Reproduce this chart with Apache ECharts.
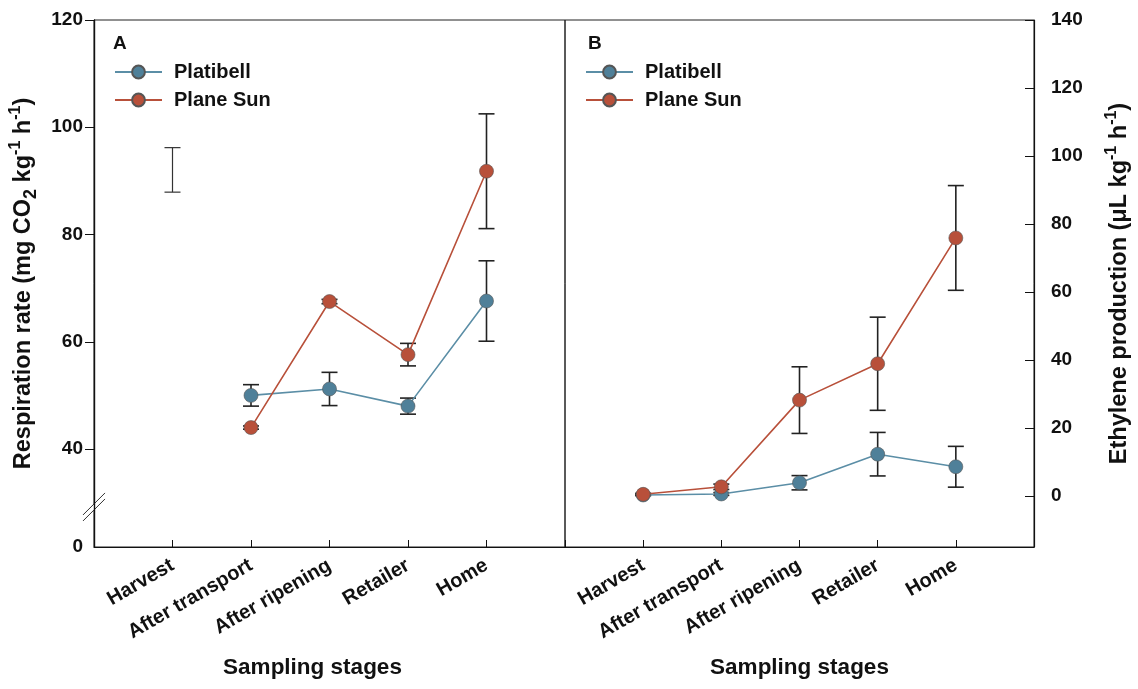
<!DOCTYPE html>
<html><head><meta charset="utf-8">
<script src="https://cdn.jsdelivr.net/npm/echarts@6/dist/echarts.min.js"></script>
<style>html,body{margin:0;padding:0;background:#fff}#c{width:1138px;height:689px}</style>
</head><body><div id="c"></div>
<script>
// ---- data ----
const stages = ['Harvest', 'After transport', 'After ripening', 'Retailer', 'Home'];
const seriesNames = ['Platibell', 'Plane Sun'];
const leftTickValues = [40, 60, 80, 100, 120];
const leftBottomLabel = '0';
const rightTickValues = [0, 20, 40, 60, 80, 100, 120, 140];
// Panel A: respiration rate (mg CO2 kg-1 h-1)
const respPlatibell = [null, 50.0, 51.2, 48.0, 67.6];
const respPlatibellErr = [null, 2.0, 3.1, 1.5, 7.5];
const respPlaneSun = [null, 44.0, 67.5, 57.6, 91.8];
const respPlaneSunErr = [null, 0.3, 0.4, 2.1, 10.7];
const respUnmarkedMean = [92.05, null, null, null, null];
const respUnmarkedErr = [4.15, null, null, null, null];
// Panel B: ethylene production (uL kg-1 h-1)
const ethPlatibell = [0.3, 0.6, 3.9, 12.3, 8.6];
const ethPlatibellErr = [0.2, 0.4, 2.1, 6.4, 6.0];
const ethPlaneSun = [0.5, 2.7, 28.2, 38.9, 75.9];
const ethPlaneSunErr = [0.3, 0.8, 9.8, 13.7, 15.4];

// ---- styling / layout ----
const FONT = "'Liberation Sans', Arial, sans-serif";
const C_BLUE = '#4f8099';
const C_BLUE_LINE = '#5b8ea6';
const C_RED = '#b8503a';
const C_ERR = '#222';
const LEFT_AXIS_MIN = 21.73;   // axis is broken: bottom of axis is labelled 0
const RIGHT_AXIS_MIN = -15;

const axisCats = [''].concat(stages, ['']);
const pad = a => [null].concat(a, [null]);

function errSeries(mean, err, xi, yi, color, lw) {
  const data = [];
  mean.forEach((m, i) => { if (m != null && err[i] != null) data.push([i + 1, m - err[i], m + err[i]]); });
  return {
    type: 'custom', xAxisIndex: xi, yAxisIndex: yi, data, z: 1, silent: true,
    encode: { x: 0, y: [1, 2] },
    renderItem(params, api) {
      const x = api.value(0);
      const lo = api.coord([x, api.value(1)]);
      const hi = api.coord([x, api.value(2)]);
      const hw = 8;
      const st = { stroke: color, lineWidth: lw };
      return { type: 'group', children: [
        { type: 'line', shape: { x1: lo[0], y1: lo[1], x2: hi[0], y2: hi[1] }, style: st },
        { type: 'line', shape: { x1: lo[0] - hw, y1: lo[1], x2: lo[0] + hw, y2: lo[1] }, style: st },
        { type: 'line', shape: { x1: hi[0] - hw, y1: hi[1], x2: hi[0] + hw, y2: hi[1] }, style: st }
      ]};
    }
  };
}

function lineSeries(name, data, xi, yi, color, lineColor) {
  return {
    type: 'line', name, xAxisIndex: xi, yAxisIndex: yi, data: pad(data), z: 3,
    symbol: 'circle', symbolSize: 14, connectNulls: false,
    lineStyle: { color: lineColor, width: 1.6 },
    itemStyle: { color, borderColor: '#555', borderWidth: 0.6 },
    emphasis: { disabled: true }, animation: false
  };
}

const textBold = { fontFamily: FONT, fontWeight: 'bold', color: '#111' };

function xAxisCfg(gi, namePad) {
  return {
    type: 'category', gridIndex: gi, data: axisCats, boundaryGap: false,
    axisLine: { onZero: false, lineStyle: { color: '#111', width: 1.2 } },
    axisTick: { inside: true, length: 7, interval: 0, lineStyle: { color: '#111' } },
    axisLabel: Object.assign({ interval: 0, rotate: 30, margin: 17, fontSize: 20 }, textBold),
    splitLine: { show: false },
    name: 'Sampling stages', nameLocation: 'middle', nameGap: 109,
    nameTextStyle: Object.assign({ fontSize: 22.5, padding: namePad }, textBold)
  };
}

const richBase = { fontFamily: FONT, fontWeight: 'bold', color: '#111', fontSize: 23.5, lineHeight: 32 };
const richSub = { sub: { fontFamily: FONT, fontWeight: 'bold', color: '#111', fontSize: 18, lineHeight: 16, verticalAlign: 'bottom' },
                  sup: { fontFamily: FONT, fontWeight: 'bold', color: '#111', fontSize: 16, lineHeight: 16, verticalAlign: 'top' } };

const chart = echarts.init(document.getElementById('c'), null, { renderer: 'canvas' });
const option = {
  backgroundColor: '#fff',
  animation: false,
  title: [
    { text: 'A', left: 113, top: 34, padding: 0, textStyle: Object.assign({ fontSize: 19 }, textBold) },
    { text: 'B', left: 588, top: 34, padding: 0, textStyle: Object.assign({ fontSize: 19 }, textBold) }
  ],
  legend: [
    { orient: 'vertical', left: 114, top: 61, itemWidth: 47, itemHeight: 16, itemGap: 6, padding: 0,
      data: seriesNames, selectedMode: false,
      textStyle: Object.assign({ fontSize: 20, lineHeight: 22, padding: [0, 0, 0, 7] }, textBold) },
    { orient: 'vertical', left: 585, top: 61, itemWidth: 47, itemHeight: 16, itemGap: 6, padding: 0,
      data: seriesNames, selectedMode: false,
      textStyle: Object.assign({ fontSize: 20, lineHeight: 22, padding: [0, 0, 0, 7] }, textBold) }
  ],
  grid: [
    { left: 94, top: 20, width: 471, height: 527, show: true, borderColor: '#222', borderWidth: 1, containLabel: false },
    { left: 565, top: 20, width: 469, height: 527, show: true, borderColor: '#222', borderWidth: 1, containLabel: false }
  ],
  xAxis: [ xAxisCfg(0, [0, 34, 0, 0]), xAxisCfg(1, [0, 0, 0, 0]) ],
  yAxis: [
    {
      type: 'value', gridIndex: 0, position: 'left', min: LEFT_AXIS_MIN, max: 120,
      axisLine: { show: true, onZero: false, lineStyle: { color: '#111', width: 1.4 } },
      axisTick: { show: true, inside: false, length: 9, customValues: leftTickValues, lineStyle: { color: '#111' } },
      axisLabel: Object.assign({ fontSize: 19, margin: 11, customValues: [LEFT_AXIS_MIN].concat(leftTickValues),
        formatter: v => (v < leftTickValues[0] ? leftBottomLabel : String(v)) }, textBold),
      splitLine: { show: false },
      name: 'Respiration rate (mg CO{sub|2} kg{sup|-1} h{sup|-1})',
      nameLocation: 'middle', nameRotate: 90, nameGap: 54,
      nameTextStyle: Object.assign({}, richBase, { rich: richSub })
    },
    {
      type: 'value', gridIndex: 1, position: 'right', min: RIGHT_AXIS_MIN, max: 140,
      axisLine: { show: true, onZero: false, lineStyle: { color: '#111', width: 1.2 } },
      axisTick: { show: true, inside: true, length: 9, customValues: rightTickValues, lineStyle: { color: '#111' } },
      axisLabel: Object.assign({ fontSize: 19, margin: 17, customValues: rightTickValues }, textBold),
      splitLine: { show: false },
      name: 'Ethylene production (\u03bcL kg{sup|-1} h{sup|-1})',
      nameLocation: 'middle', nameRotate: 90, nameGap: 70,
      nameTextStyle: Object.assign({}, richBase, { rich: richSub })
    }
  ],
  series: [
    errSeries(respUnmarkedMean, respUnmarkedErr, 0, 0, '#333', 1.2),
    errSeries(respPlatibell, respPlatibellErr, 0, 0, C_ERR, 1.6),
    errSeries(respPlaneSun, respPlaneSunErr, 0, 0, C_ERR, 1.6),
    errSeries(ethPlatibell, ethPlatibellErr, 1, 1, C_ERR, 1.6),
    errSeries(ethPlaneSun, ethPlaneSunErr, 1, 1, C_ERR, 1.6),
    lineSeries('Platibell', respPlatibell, 0, 0, C_BLUE, C_BLUE_LINE),
    lineSeries('Plane Sun', respPlaneSun, 0, 0, C_RED, C_RED),
    lineSeries('Platibell', ethPlatibell, 1, 1, C_BLUE, C_BLUE_LINE),
    lineSeries('Plane Sun', ethPlaneSun, 1, 1, C_RED, C_RED)
  ]
};
chart.setOption(option);

// axis-break mark on the left y axis, located through the axis scale
const bp = chart.convertToPixel({ gridIndex: 0 }, [0, 29.2]);
const bx = bp[0], by = bp[1], d = 11, off = 3;
chart.setOption({
  graphic: [{
    type: 'group', z: 100, children: [
      { type: 'polygon', shape: { points: [[bx - d, by + d - off], [bx + d, by - d - off], [bx + d, by - d + off], [bx - d, by + d + off]] },
        style: { fill: '#fff' } },
      { type: 'line', shape: { x1: bx - d, y1: by + d - off, x2: bx + d, y2: by - d - off }, style: { stroke: '#333', lineWidth: 1 } },
      { type: 'line', shape: { x1: bx - d, y1: by + d + off, x2: bx + d, y2: by - d + off }, style: { stroke: '#333', lineWidth: 1 } }
    ]
  }]
});
</script></body></html>
